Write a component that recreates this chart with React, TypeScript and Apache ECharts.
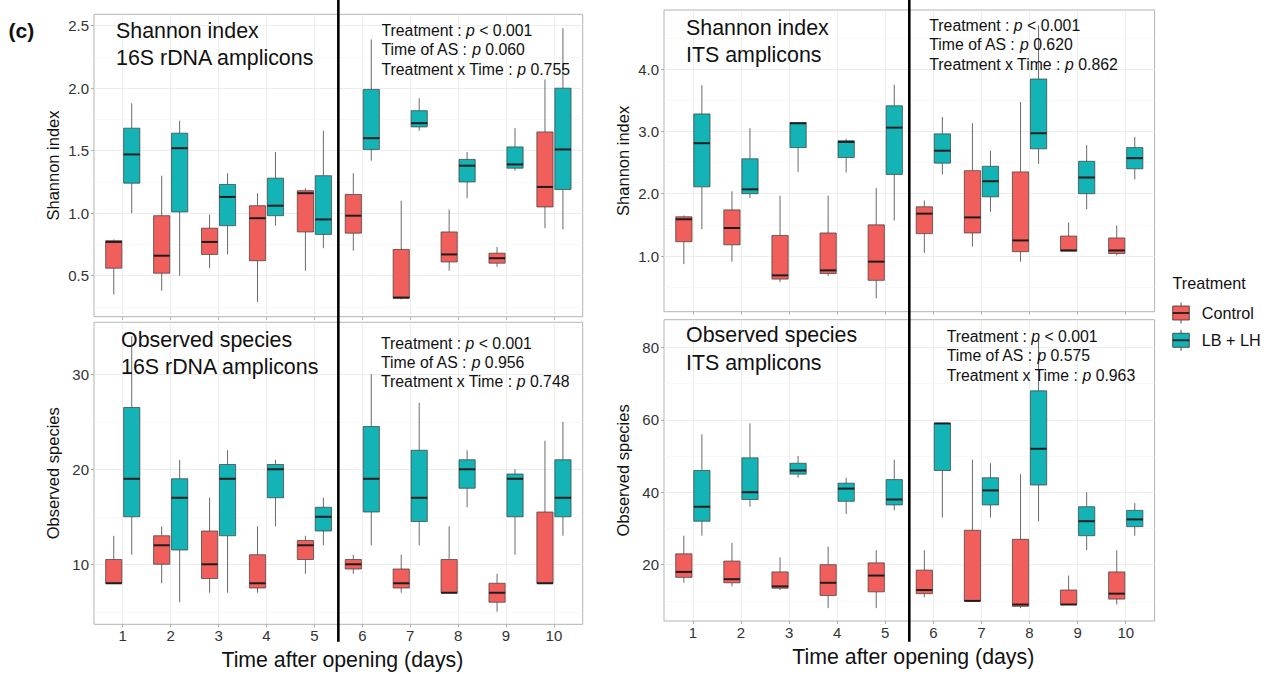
import React, { useEffect, useRef } from "react";
import * as echarts from "echarts";

const days = [1, 2, 3, 4, 5, 6, 7, 8, 9, 10];
const groupNames = ["Control", "LB + LH"];
const groupColors = ["#F05F5C", "#14B3B5"];

// each row: [lower whisker, Q1, median, Q3, upper whisker]
const shannon16sControl = [
  [0.35, 0.56, 0.77, 0.78, 0.79],
  [0.38, 0.52, 0.66, 0.98, 1.3],
  [0.56, 0.67, 0.77, 0.88, 0.99],
  [0.29, 0.62, 0.96, 1.06, 1.16],
  [0.54, 0.85, 1.16, 1.18, 1.2],
  [0.7, 0.84, 0.98, 1.15, 1.32],
  [0.31, 0.32, 0.325, 0.71, 1.1],
  [0.54, 0.61, 0.67, 0.85, 1.03],
  [0.57, 0.6, 0.64, 0.68, 0.73],
  [0.88, 1.05, 1.21, 1.65, 2.07],
];
const shannon16sLBLH = [
  [1.0, 1.24, 1.47, 1.68, 1.88],
  [0.5, 1.01, 1.52, 1.64, 1.74],
  [0.67, 0.9, 1.13, 1.23, 1.32],
  [0.9, 0.98, 1.06, 1.28, 1.49],
  [0.72, 0.83, 0.95, 1.3, 1.66],
  [1.42, 1.51, 1.6, 1.99, 2.39],
  [1.66, 1.69, 1.72, 1.82, 1.92],
  [1.12, 1.25, 1.38, 1.43, 1.49],
  [1.34, 1.36, 1.39, 1.53, 1.68],
  [0.87, 1.19, 1.51, 2.0, 2.48],
];
const observed16sControl = [
  [8, 8, 8, 10.5, 13],
  [8, 10, 12, 13, 14],
  [7, 8.5, 10, 13.5, 17],
  [7, 7.5, 8, 11, 14],
  [9, 10.5, 12, 12.5, 13],
  [9, 9.5, 10, 10.5, 11],
  [7, 7.5, 8, 9.5, 11],
  [7, 7, 7, 10.5, 14],
  [5, 6, 7, 8, 9],
  [8, 8, 8, 15.5, 23],
];
const observed16sLBLH = [
  [11, 15, 19, 26.5, 34],
  [6, 11.5, 17, 19, 21],
  [7, 13, 19, 20.5, 22],
  [14, 17, 20, 20.5, 21],
  [12, 13.5, 15, 16, 17],
  [12, 15.5, 19, 24.5, 30],
  [12, 14.5, 17, 22, 27],
  [16, 18, 20, 21, 22],
  [11, 15, 19, 19.5, 20],
  [13, 15, 17, 21, 25],
];
const shannonItsControl = [
  [0.87, 1.23, 1.59, 1.63, 1.65],
  [0.91, 1.18, 1.45, 1.74, 2.04],
  [0.58, 0.63, 0.69, 1.33, 1.97],
  [0.68, 0.72, 0.77, 1.37, 1.97],
  [0.32, 0.61, 0.91, 1.5, 2.09],
  [1.05, 1.36, 1.68, 1.79, 1.89],
  [1.15, 1.37, 1.62, 2.37, 3.13],
  [0.91, 1.07, 1.25, 2.35, 3.47],
  [1.08, 1.08, 1.09, 1.32, 1.54],
  [1.01, 1.04, 1.09, 1.29, 1.49],
];
const shannonItsLBLH = [
  [1.43, 2.11, 2.81, 3.28, 3.74],
  [1.93, 2.0, 2.07, 2.56, 3.05],
  [2.35, 2.74, 3.13, 3.14, 3.14],
  [2.34, 2.58, 2.83, 2.85, 2.88],
  [1.57, 2.31, 3.06, 3.41, 3.75],
  [2.31, 2.49, 2.69, 2.96, 3.23],
  [1.71, 1.95, 2.2, 2.44, 2.69],
  [2.48, 2.72, 2.97, 3.84, 4.7],
  [1.75, 2.0, 2.26, 2.52, 2.78],
  [2.23, 2.4, 2.57, 2.74, 2.91],
];
const observedItsControl = [
  [15, 16.5, 18, 23, 28],
  [14, 15, 16, 21, 26],
  [13, 13.5, 14, 18, 22],
  [8, 11.5, 15, 20, 25],
  [8, 12.5, 17, 20.5, 24],
  [11, 12, 13, 18.5, 24],
  [10, 10, 10, 29.5, 49],
  [8, 8.5, 9, 27, 45],
  [9, 9, 9, 13, 17],
  [9, 10.5, 12, 18, 24],
];
const observedItsLBLH = [
  [28, 32, 36, 46, 56],
  [36, 38, 40, 49.5, 59],
  [44, 45, 46, 48, 50],
  [34, 37.5, 41, 42.5, 44],
  [35, 36.5, 38, 43.5, 49],
  [33, 46, 59, 59, 59],
  [33, 36.5, 40.5, 44, 48],
  [32, 42, 52, 68, 82],
  [24, 28, 32, 36, 40],
  [28, 30.5, 32.5, 35, 37],
];

// y tick labels (major) and minor grid values
const shannon16sTicks = [0.5, 1.0, 1.5, 2.0, 2.5];
const shannon16sMinor = [0.25, 0.75, 1.25, 1.75, 2.25];
const observed16sTicks = [10, 20, 30];
const observed16sMinor = [5, 15, 25, 35];
const shannonItsTicks = [1.0, 2.0, 3.0, 4.0];
const shannonItsMinor = [0.5, 1.5, 2.5, 3.5, 4.5];
const observedItsTicks = [20, 40, 60, 80];
const observedItsMinor = [10, 30, 50, 70];

const yRanges = [
  [0.172, 2.591],
  [3.68, 35.47],
  [0.107, 4.947],
  [4.45, 87.64],
];
const yDecimals = [1, 0, 1, 0];
const yTitles = ["Shannon index", "Observed species", "Shannon index", "Observed species"];
const panelTitles = [
  ["Shannon index", "16S rDNA amplicons"],
  ["Observed species", "16S rDNA amplicons"],
  ["Shannon index", "ITS amplicons"],
  ["Observed species", "ITS amplicons"],
];
const pTreatment = ["< 0.001", "< 0.001", "< 0.001", "< 0.001"];
const pTime = ["0.060", "0.956", "0.620", "0.575"];
const pInteraction = ["0.755", "0.748", "0.862", "0.963"];
const xTitle = "Time after opening (days)";
const legendTitle = "Treatment";
const splitDay = 5.5;

const panelData = [
  [shannon16sControl, shannon16sLBLH],
  [observed16sControl, observed16sLBLH],
  [shannonItsControl, shannonItsLBLH],
  [observedItsControl, observedItsLBLH],
];
const panelTicks = [shannon16sTicks, observed16sTicks, shannonItsTicks, observedItsTicks];
const panelMinor = [shannon16sMinor, observed16sMinor, shannonItsMinor, observedItsMinor];

// layout
const grids = [
  { left: 94, top: 14.3, width: 488.7, height: 302.4 },
  { left: 94, top: 322.3, width: 488.7, height: 302 },
  { left: 664, top: 10, width: 490.6, height: 301.7 },
  { left: 664, top: 319.7, width: 490.6, height: 301.3 },
];
const titlePos = [
  { x: 116, y1: 30.5, y2: 57.5 },
  { x: 121, y1: 340, y2: 366.5 },
  { x: 686, y1: 27.5, y2: 55 },
  { x: 686, y1: 335, y2: 362.5 },
];
const annoPos = [
  { x: 381.5, y: 30.7 },
  { x: 381, y: 343.3 },
  { x: 929.3, y: 25.7 },
  { x: 946.7, y: 336.7 },
];

const FONT = "'Liberation Sans', Arial, Helvetica, sans-serif";
const BOX_HALF = 0.169;
const DODGE = 0.1875;
const ANNO_SIZE = 15.8;
const ANNO_LH = 19.2;

function makeRender(offset: number, color: string) {
  return (params: any, api: any) => {
    const cx = api.value(0) + offset;
    const lo = api.value(1);
    const q1 = api.value(2);
    const med = api.value(3);
    const q3 = api.value(4);
    const hi = api.value(5);
    const pTop = api.coord([cx, hi]);
    const pQ3 = api.coord([cx, q3]);
    const pQ1 = api.coord([cx, q1]);
    const pBot = api.coord([cx, lo]);
    const pL = api.coord([cx - BOX_HALF, q3]);
    const pR = api.coord([cx + BOX_HALF, q1]);
    const mL = api.coord([cx - BOX_HALF, med]);
    const mR = api.coord([cx + BOX_HALF, med]);
    const wStyle = { stroke: "#444", lineWidth: 0.8 };
    return {
      type: "group",
      children: [
        { type: "line", shape: { x1: pTop[0], y1: pTop[1], x2: pQ3[0], y2: pQ3[1] }, style: wStyle },
        { type: "line", shape: { x1: pQ1[0], y1: pQ1[1], x2: pBot[0], y2: pBot[1] }, style: wStyle },
        {
          type: "rect",
          shape: { x: pL[0], y: pL[1], width: pR[0] - pL[0], height: pR[1] - pL[1] },
          style: { fill: color, stroke: "#3a3a3a", lineWidth: 0.7 },
        },
        {
          type: "line",
          shape: { x1: mL[0], y1: mL[1], x2: mR[0], y2: mR[1] },
          style: { stroke: "#1e1e1e", lineWidth: 2 },
        },
      ],
    };
  };
}

export default function App() {
  const ref = useRef<HTMLDivElement>(null);

  useEffect(() => {
    document.body.style.margin = "0";
    const chart = echarts.init(ref.current!, null, { renderer: "svg" });

    const xAxes: any[] = [];
    const yAxes: any[] = [];
    const series: any[] = [];

    grids.forEach((g, p) => {
      const isBottom = p === 1 || p === 3;
      xAxes.push({
        type: "value",
        gridIndex: p,
        min: 0.4,
        max: 10.6,
        axisLine: { show: false },
        axisTick: {
          show: true,
          length: 3,
          customValues: days,
          lineStyle: { color: "#9a9a9a", width: 0.8 },
        },
        axisLabel: {
          show: isBottom,
          customValues: days,
          margin: 4,
          fontSize: 15,
          color: "#333",
          fontFamily: FONT,
        },
        splitLine: { show: true, lineStyle: { color: "#EAEAEA", width: 0.8 } },
        name: isBottom ? xTitle : "",
        nameLocation: "middle",
        nameGap: 25,
        nameTextStyle: { fontSize: 21.3, color: "#111", fontFamily: FONT, verticalAlign: "top", padding: [0, 0, 0, 8] },
      });
      const [ymin, ymax] = yRanges[p];
      const dec = yDecimals[p];
      yAxes.push({
        type: "value",
        gridIndex: p,
        min: ymin,
        max: ymax,
        axisLine: { show: false },
        axisTick: {
          show: true,
          length: 3,
          customValues: panelTicks[p],
          lineStyle: { color: "#9a9a9a", width: 0.8 },
        },
        axisLabel: {
          customValues: panelTicks[p],
          formatter: (v: number) => v.toFixed(dec),
          margin: 5,
          fontSize: 15,
          color: "#333",
          fontFamily: FONT,
        },
        splitLine: { show: true, lineStyle: { color: "#EAEAEA", width: 0.9 } },
        name: yTitles[p],
        nameLocation: "middle",
        nameGap: 33,
        nameTextStyle: { fontSize: 16.5, color: "#111", fontFamily: FONT },
      });
      yAxes.push({
        type: "value",
        gridIndex: p,
        min: ymin,
        max: ymax,
        position: "left",
        axisLine: { show: false },
        axisTick: { show: false, customValues: panelMinor[p] },
        axisLabel: { show: false, customValues: panelMinor[p] },
        splitLine: { show: true, lineStyle: { color: "#F3F3F3", width: 0.6 } },
      });
      panelData[p].forEach((rows, gi) => {
        series.push({
          type: "custom",
          name: groupNames[gi],
          xAxisIndex: p,
          yAxisIndex: p * 2,
          data: days.map((d, i) => [d, ...rows[i]]),
          encode: { x: 0, y: [1, 2, 3, 4, 5] },
          renderItem: makeRender(gi === 0 ? -DODGE : DODGE, groupColors[gi]),
          silent: true,
          z: 3,
        });
      });
    });

    // statistics annotations as rich-text titles
    const richStyles = {
      n: { fontSize: ANNO_SIZE, fontFamily: FONT, color: "#111", lineHeight: ANNO_LH },
      i: { fontSize: ANNO_SIZE, fontFamily: FONT, fontStyle: "italic", color: "#111", lineHeight: ANNO_LH },
    };
    const titles = annoPos.map((a, p) => ({
      text: [
        `{n|Treatment : }{i|p}{n| ${pTreatment[p]}}`,
        `{n|Time of AS : }{i|p}{n| ${pTime[p]}}`,
        `{n|Treatment x Time : }{i|p}{n| ${pInteraction[p]}}`,
      ].join("\n"),
      left: a.x,
      top: a.y - ANNO_LH / 2,
      padding: 0,
      z: 10,
      textStyle: { fontSize: ANNO_SIZE, fontWeight: "normal", fontFamily: FONT, color: "#111", lineHeight: ANNO_LH, rich: richStyles },
    }));

    chart.setOption({
      animation: false,
      backgroundColor: "#ffffff",
      title: titles,
      grid: grids.map((g) => ({
        ...g,
        show: true,
        borderColor: "#B3B3B3",
        borderWidth: 1,
        backgroundColor: "transparent",
      })),
      xAxis: xAxes,
      yAxis: yAxes,
      series,
    });

    const elements: any[] = [];
    elements.push({
      type: "text",
      style: { text: "(c)", x: 8.5, y: 30, verticalAlign: "middle", font: `bold 21px ${FONT}`, fill: "#111" },
    });
    panelTitles.forEach((t, p) => {
      const pos = titlePos[p];
      elements.push({
        type: "text",
        z: 10,
        style: { text: t[0], x: pos.x, y: pos.y1, verticalAlign: "middle", font: `21.4px ${FONT}`, fill: "#111" },
      });
      elements.push({
        type: "text",
        z: 10,
        style: { text: t[1], x: pos.x, y: pos.y2, verticalAlign: "middle", font: `21.4px ${FONT}`, fill: "#111" },
      });
    });

    // legend
    elements.push({
      type: "text",
      style: { text: legendTitle, x: 1172.5, y: 283, verticalAlign: "middle", font: `16.2px ${FONT}`, fill: "#111" },
    });
    const keyY = [313, 340.3];
    groupNames.forEach((nm, gi) => {
      const cy = keyY[gi];
      elements.push({ type: "line", shape: { x1: 1181, y1: cy - 10.5, x2: 1181, y2: cy + 10.5 }, style: { stroke: "#333", lineWidth: 0.9 } });
      elements.push({
        type: "rect",
        shape: { x: 1172.7, y: cy - 7, width: 16.6, height: 14 },
        style: { fill: groupColors[gi], stroke: "#333", lineWidth: 0.8 },
      });
      elements.push({ type: "line", shape: { x1: 1172.7, y1: cy, x2: 1189.3, y2: cy }, style: { stroke: "#1e1e1e", lineWidth: 1.8 } });
      elements.push({
        type: "text",
        style: { text: nm, x: 1201.7, y: cy, verticalAlign: "middle", font: `16.2px ${FONT}`, fill: "#111" },
      });
    });

    // vertical separators at the split between day 5 and day 6
    [0, 2].forEach((xi) => {
      const px = chart.convertToPixel({ xAxisIndex: xi } as any, splitDay) as any as number;
      elements.push({
        type: "line",
        z: 20,
        shape: { x1: px, y1: 0, x2: px, y2: 641.7 },
        style: { stroke: "#000", lineWidth: 2.6 },
      });
    });

    chart.setOption({ graphic: elements });

    return () => chart.dispose();
  }, []);

  return (
    <div
      ref={ref}
      style={{ position: "absolute", left: 0, top: 0, width: 1269, height: 674, background: "#fff" }}
    />
  );
}
